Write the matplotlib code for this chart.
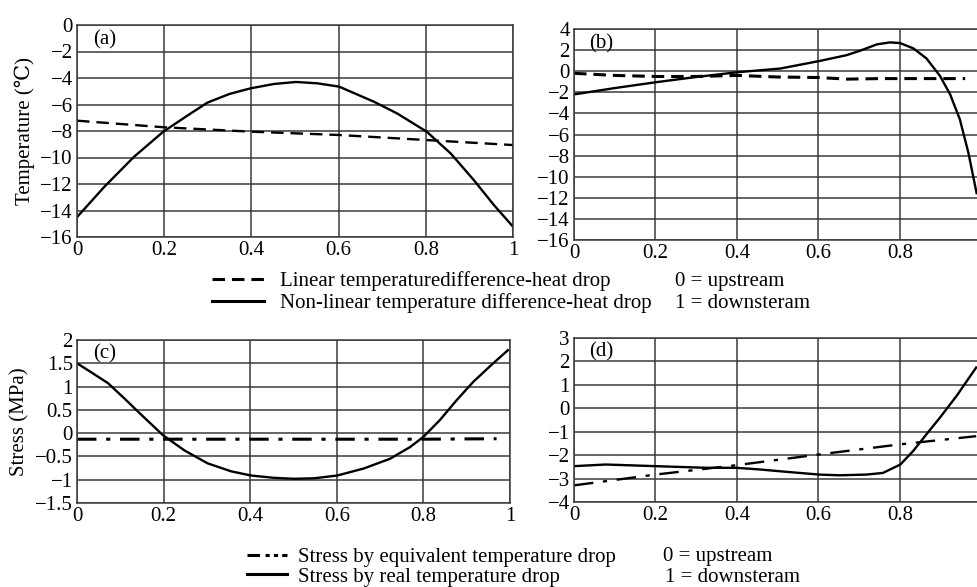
import matplotlib
matplotlib.use("Agg")
import matplotlib.pyplot as plt
from matplotlib.lines import Line2D

plt.rcParams['font.family'] = ['Liberation Serif', 'DejaVu Serif']
plt.rcParams['lines.scale_dashes'] = False
plt.rcParams['axes.unicode_minus'] = True

# ---- data ----
# (a) temperature, full span
xa_lin = [0.0, 0.2, 0.4, 0.6, 0.8, 1.0]
ya_lin = [-7.22, -7.72, -8.05, -8.3, -8.68, -9.06]
xa_non = [0.0, 0.063, 0.131, 0.198, 0.261, 0.299, 0.35, 0.398, 0.452, 0.502,
          0.551, 0.601, 0.681, 0.734, 0.802, 0.857, 0.91, 0.956, 1.0]
ya_non = [-14.5, -12.2, -9.94, -8.05, -6.67, -5.86, -5.2, -4.78, -4.45, -4.3,
          -4.4, -4.65, -5.79, -6.67, -8.05, -9.69, -11.7, -13.58, -15.22]

# (b) temperature, second section
xb_lin = [0.0, 0.1, 0.2, 0.3, 0.4, 0.5, 0.6, 0.67, 0.75, 0.85, 0.96]
yb_lin = [-0.2, -0.4, -0.5, -0.5, -0.4, -0.55, -0.6, -0.75, -0.7, -0.7, -0.7]
xb_non = [0.0, 0.1, 0.2, 0.3, 0.4, 0.506, 0.604, 0.669, 0.702, 0.743, 0.775,
          0.8, 0.833, 0.865, 0.898, 0.923, 0.947, 0.968, 0.988]
yb_non = [-2.2, -1.6, -1.05, -0.55, -0.1, 0.25, 0.98, 1.52, 1.94, 2.54, 2.73,
          2.67, 2.16, 1.21, -0.44, -2.19, -4.57, -7.75, -11.56]

# (c) stress, full span
xc_eq = [0.0, 0.2, 0.4, 0.6, 0.8, 0.969]
yc_eq = [-0.13, -0.13, -0.13, -0.13, -0.13, -0.12]
xc_real = [0.0, 0.034, 0.072, 0.11, 0.149, 0.198, 0.248, 0.302, 0.356, 0.402,
           0.455, 0.501, 0.547, 0.601, 0.662, 0.723, 0.769, 0.8, 0.838, 0.877,
           0.915, 0.953, 0.995]
yc_real = [1.5, 1.3, 1.07, 0.74, 0.39, -0.04, -0.37, -0.65, -0.82, -0.91,
           -0.96, -0.98, -0.97, -0.91, -0.76, -0.55, -0.3, -0.08, 0.28, 0.71,
           1.1, 1.43, 1.78]

# (d) stress, second section
xd_eq = [0.0, 0.2, 0.398, 0.602, 0.8, 0.987]
yd_eq = [-3.29, -2.83, -2.43, -1.97, -1.54, -1.19]
xd_real = [0.0, 0.078, 0.2, 0.324, 0.398, 0.455, 0.52, 0.602, 0.652, 0.717,
           0.758, 0.801, 0.832, 0.865, 0.898, 0.939, 0.987]
yd_real = [-2.47, -2.4, -2.47, -2.54, -2.54, -2.61, -2.71, -2.83, -2.86, -2.83,
           -2.76, -2.4, -1.83, -1.11, -0.4, 0.53, 1.74]

ticks_x_full = [0, 0.2, 0.4, 0.6, 0.8, 1]
ticks_x_part = [0, 0.2, 0.4, 0.6, 0.8]
xlabels_full = ['0', '0.2', '0.4', '0.6', '0.8', '1']
xlabels_part = ['0', '0.2', '0.4', '0.6', '0.8']
ticks_a = list(range(-16, 1, 2))
ticks_b = list(range(-16, 5, 2))
ticks_c = [-1.5, -1, -0.5, 0, 0.5, 1, 1.5, 2]
ticks_d = list(range(-4, 4, 1))

W, H = 977, 587
fig = plt.figure(figsize=(W / 100, H / 100), dpi=100)

def box(l, t, r, b):
    return [l / W, 1 - b / H, (r - l) / W, (b - t) / H]

FS = 15
GRID = '#3a3a3a'

def style(ax, xt, xl, yt, ylim, xlim, label, open_right=False):
    ax.set_xlim(*xlim)
    ax.set_ylim(*ylim)
    ax.set_xticks(xt)
    ax.set_xticklabels(xl)
    ax.set_yticks(yt)
    ax.set_yticklabels([('%g' % v).replace('-', '\u2212') for v in yt])
    ax.tick_params(length=0, labelsize=FS, pad=3)
    ax.grid(True, color=GRID, linewidth=1.1)
    for s in ax.spines.values():
        s.set_color(GRID)
        s.set_linewidth(1.1)
    if open_right:
        ax.spines['right'].set_visible(False)
    ax.text(0.037, 0.975, label, transform=ax.transAxes, fontsize=FS,
            ha='left', va='top')

LW = 1.7
dash = (0, (9, 5))
dashdot = (0, (14, 7, 3, 7))

ax_a = fig.add_axes(box(77, 25, 513, 237))
ax_a.plot(xa_lin, ya_lin, color='black', lw=LW, linestyle=dash)
ax_a.plot(xa_non, ya_non, color='black', lw=LW)
style(ax_a, ticks_x_full, xlabels_full, ticks_a, (-16, 0), (0, 1), '(a)')
ax_a.set_ylabel('Temperature (\u2103)', fontsize=FS, labelpad=4)

ax_b = fig.add_axes(box(574, 29, 977, 240))
ax_b.plot(xb_lin, yb_lin, color='black', lw=LW + 0.5, linestyle=dash)
ax_b.plot(xb_non, yb_non, color='black', lw=LW)
style(ax_b, ticks_x_part, xlabels_part, ticks_b, (-16, 4), (0, 0.989), '(b)', open_right=True)

ax_c = fig.add_axes(box(77, 340, 510, 503))
ax_c.plot(xc_eq, yc_eq, color='black', lw=LW + 0.5, linestyle=dashdot)
ax_c.plot(xc_real, yc_real, color='black', lw=LW)
style(ax_c, ticks_x_full, xlabels_full, ticks_c, (-1.5, 2), (0, 1), '(c)')
ax_c.set_ylabel('Stress (MPa)', fontsize=FS, labelpad=4)

ax_d = fig.add_axes(box(574, 338, 977, 502))
ax_d.plot(xd_eq, yd_eq, color='black', lw=LW, linestyle=dashdot)
ax_d.plot(xd_real, yd_real, color='black', lw=LW)
style(ax_d, ticks_x_part, xlabels_part, ticks_d, (-4, 3), (0, 0.989), '(d)', open_right=True)

# legends
h1 = [Line2D([], [], color='black', lw=2.2, linestyle=dash),
      Line2D([], [], color='black', lw=2.2)]
fig.legend(h1, ['Linear temperaturedifference-heat drop',
                'Non-linear temperature difference-heat drop'],
           loc='center left', bbox_to_anchor=(212 / W, 1 - 292 / H),
           frameon=False, fontsize=FS, handlelength=2.5, handletextpad=0.75,
           labelspacing=0.1, borderpad=0, borderaxespad=0)
fig.text(675 / W, 1 - 282 / H, '0 = upstream', fontsize=FS, ha='left', va='center')
fig.text(675 / W, 1 - 304 / H, '1 = downsteram', fontsize=FS, ha='left', va='center')

h2 = [Line2D([], [], color='black', lw=2.2, linestyle=(0, (9, 4, 3, 3, 3, 3))),
      Line2D([], [], color='black', lw=2.2)]
fig.legend(h2, ['Stress by equivalent temperature drop',
                'Stress by real temperature drop'],
           loc='center left', bbox_to_anchor=(247 / W, 1 - 567 / H),
           frameon=False, fontsize=FS, handlelength=1.9, handletextpad=0.55,
           labelspacing=0.0, borderpad=0, borderaxespad=0)
fig.text(663 / W, 1 - 556 / H, '0 = upstream', fontsize=FS, ha='left', va='center')
fig.text(665 / W, 1 - 577 / H, '1 = downsteram', fontsize=FS, ha='left', va='center')

fig.savefig('out.png', dpi=100)
